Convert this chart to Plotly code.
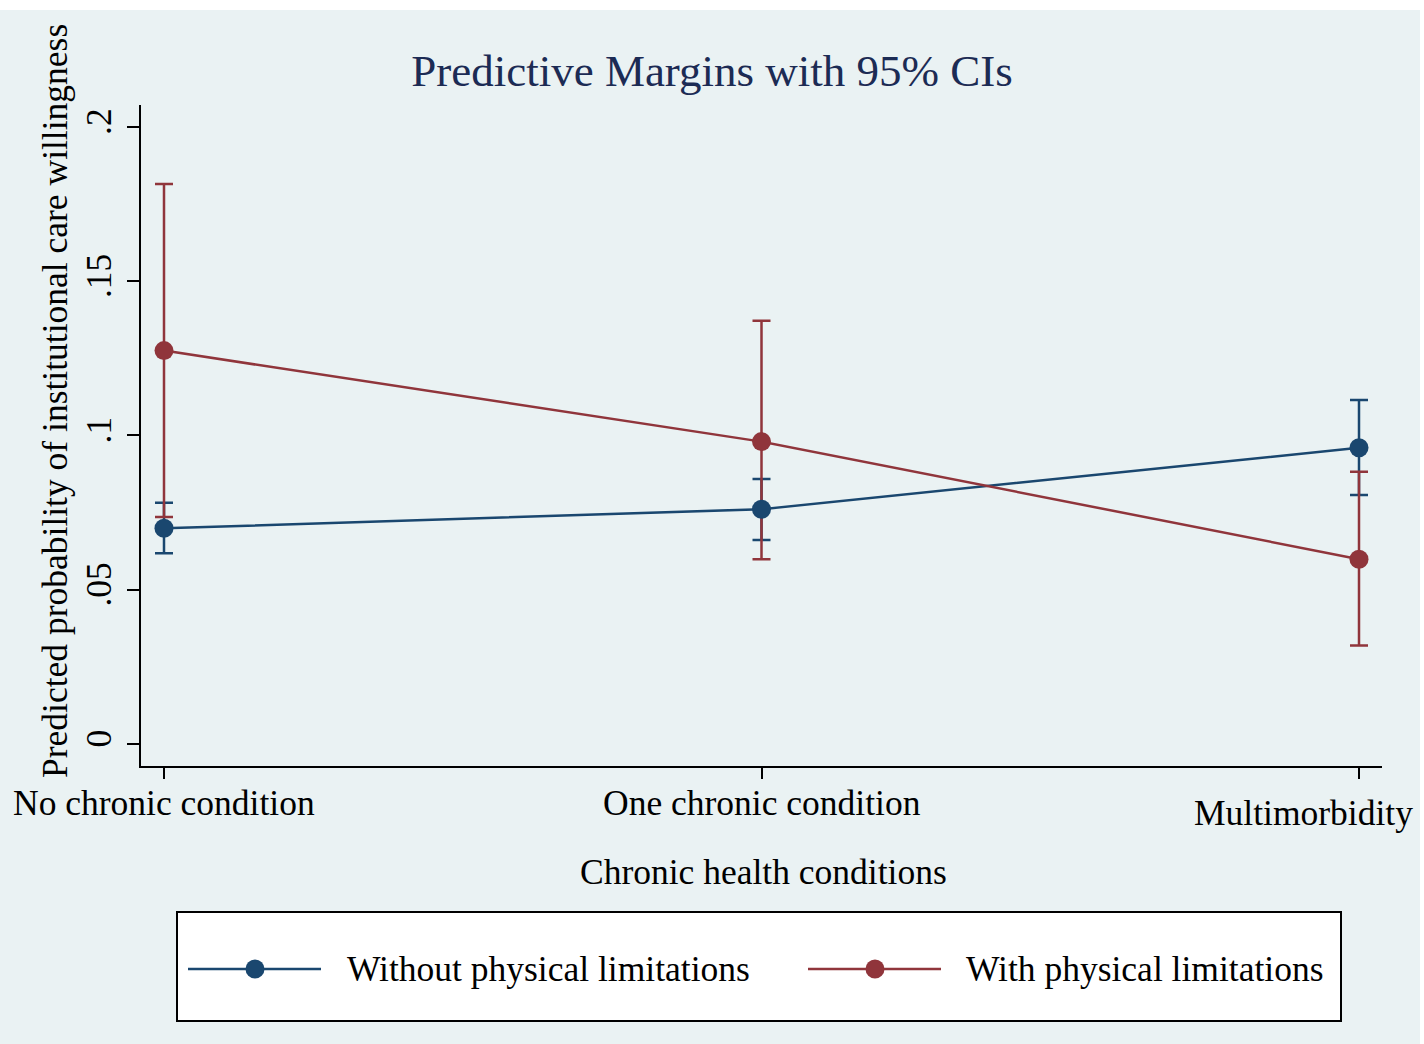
import plotly.graph_objects as go

# ---- data ----
categories = ["No chronic condition", "One chronic condition", "Multimorbidity"]
series_names = ["Without physical limitations", "With physical limitations"]
without_mean = [0.0699, 0.0761, 0.0960]
without_lower = [0.0618, 0.0661, 0.0807]
without_upper = [0.0782, 0.0859, 0.1115]
with_mean = [0.1275, 0.0980, 0.0599]
with_lower = [0.0736, 0.0599, 0.0319]
with_upper = [0.1815, 0.1372, 0.0882]
y_ticks = [0, 0.05, 0.1, 0.15, 0.2]
y_ticktext = ["0", ".05", ".1", ".15", ".2"]

# ---- style ----
BLUE = "#1a476f"
RED = "#90353b"
BG = "#eaf2f3"
TITLE_C = "#1c2b54"
FONT = "Liberation Serif, Times New Roman, serif"
FS = 35.5

W, H = 1424, 1044
ML, MR, MT, MB = 141, 42, 105, 278
PW, PH = W - ML - MR, H - MT - MB


def px(x):
    return (x - ML) / PW


def py(y):
    return (H - MB - y) / PH


fig = go.Figure()

# CI traces first (drawn underneath)
for mean, lo, hi, col in [(without_mean, without_lower, without_upper, BLUE),
                          (with_mean, with_lower, with_upper, RED)]:
    fig.add_trace(go.Scatter(
        x=categories, y=mean, mode="markers",
        marker=dict(size=1, opacity=0, color=col),
        error_y=dict(type="data", symmetric=False,
                     array=[h - m for h, m in zip(hi, mean)],
                     arrayminus=[m - l for m, l in zip(mean, lo)],
                     color=col, thickness=2.5, width=9),
        showlegend=False, hoverinfo="skip"))

for mean, col, name in [(without_mean, BLUE, series_names[0]),
                        (with_mean, RED, series_names[1])]:
    fig.add_trace(go.Scatter(
        x=categories, y=mean, mode="lines+markers", name=name,
        line=dict(color=col, width=2.5),
        marker=dict(color=col, size=19),
        showlegend=False))

shapes = []
# background (with white strip at top/right like the reference)
shapes.append(dict(type="rect", xref="paper", yref="paper", layer="below",
                   x0=px(0), x1=px(1420), y0=py(H), y1=py(10),
                   fillcolor=BG, line=dict(width=0)))
# gridlines (not at 0)
for t in y_ticks:
    if t == 0:
        continue
    shapes.append(dict(type="line", xref="x domain", yref="y", layer="below",
                       x0=0, x1=1, y0=t, y1=t,
                       line=dict(color=BG, width=2.5)))

# manual legend
shapes.append(dict(type="rect", xref="paper", yref="paper",
                   x0=px(177), x1=px(1341), y0=py(1021), y1=py(912),
                   fillcolor="white", line=dict(color="black", width=2)))
legend_items = [(series_names[0], BLUE, 188, 321, 255, 345),
                (series_names[1], RED, 808, 941, 875, 964)]
annotations = []
LY = 969
for name, col, lx0, lx1, mx, tx in legend_items:
    shapes.append(dict(type="line", xref="paper", yref="paper",
                       x0=px(lx0), x1=px(lx1), y0=py(LY), y1=py(LY),
                       line=dict(color=col, width=2.5)))
    r = 9.5
    shapes.append(dict(type="circle", xref="paper", yref="paper",
                       x0=px(mx - r), x1=px(mx + r), y0=py(LY + r), y1=py(LY - r),
                       fillcolor=col, line=dict(color=col, width=0)))
    annotations.append(dict(xref="paper", yref="paper", x=px(tx), y=py(LY),
                            xanchor="left", yanchor="middle", showarrow=False,
                            text=name, font=dict(family=FONT, size=FS, color="black")))

# x tick labels (Stata staggers the last label)
label_pos = [(803, 0), (803, 0), (813, -56)]
for cat, (ly, shift) in zip(categories, label_pos):
    annotations.append(dict(xref="x", yref="paper", x=cat, y=py(ly), xshift=shift,
                            xanchor="center", yanchor="middle", showarrow=False,
                            text=cat, font=dict(family=FONT, size=FS, color="black")))

# axis titles
annotations.append(dict(xref="paper", yref="paper", x=px(763), y=py(872),
                        xanchor="center", yanchor="middle", showarrow=False,
                        text="Chronic health conditions",
                        font=dict(family=FONT, size=FS, color="black")))
annotations.append(dict(xref="paper", yref="paper", x=px(55), y=py(401),
                        xanchor="center", yanchor="middle", showarrow=False,
                        textangle=-90,
                        text="Predicted probability of institutional care willingness",
                        font=dict(family=FONT, size=FS, color="black")))

fig.update_layout(
    width=W, height=H,
    margin=dict(l=ML, r=MR, t=MT, b=MB),
    paper_bgcolor="white", plot_bgcolor="white",
    title=dict(text="Predictive Margins with 95% CIs", x=0.5, xref="container",
               xanchor="center", y=1 - 70 / H, yref="container", yanchor="middle",
               font=dict(family=FONT, size=45, color=TITLE_C)),
    shapes=shapes, annotations=annotations,
    showlegend=False,
    font=dict(family=FONT, size=FS, color="black"),
)
fig.update_xaxes(type="category", range=[-0.0385, 2.0385], showgrid=False,
                 showline=True, linecolor="black", linewidth=2,
                 ticks="outside", ticklen=11, tickwidth=2, tickcolor="black",
                 showticklabels=False, zeroline=False, fixedrange=True)
fig.update_yaxes(range=[-0.00713, 0.2071], showgrid=False, zeroline=False,
                 showline=True, linecolor="black", linewidth=2,
                 ticks="outside", ticklen=12, tickwidth=2, tickcolor="black",
                 tickvals=y_ticks, ticktext=y_ticktext, tickangle=-90,
                 ticklabelstandoff=2,
                 tickfont=dict(family=FONT, size=FS, color="black"),
                 fixedrange=True)

fig.write_html(
    "out.html",
    config={"displayModeBar": False},
    post_script="document.body.style.margin='0px';document.body.style.overflow='hidden';",
)
